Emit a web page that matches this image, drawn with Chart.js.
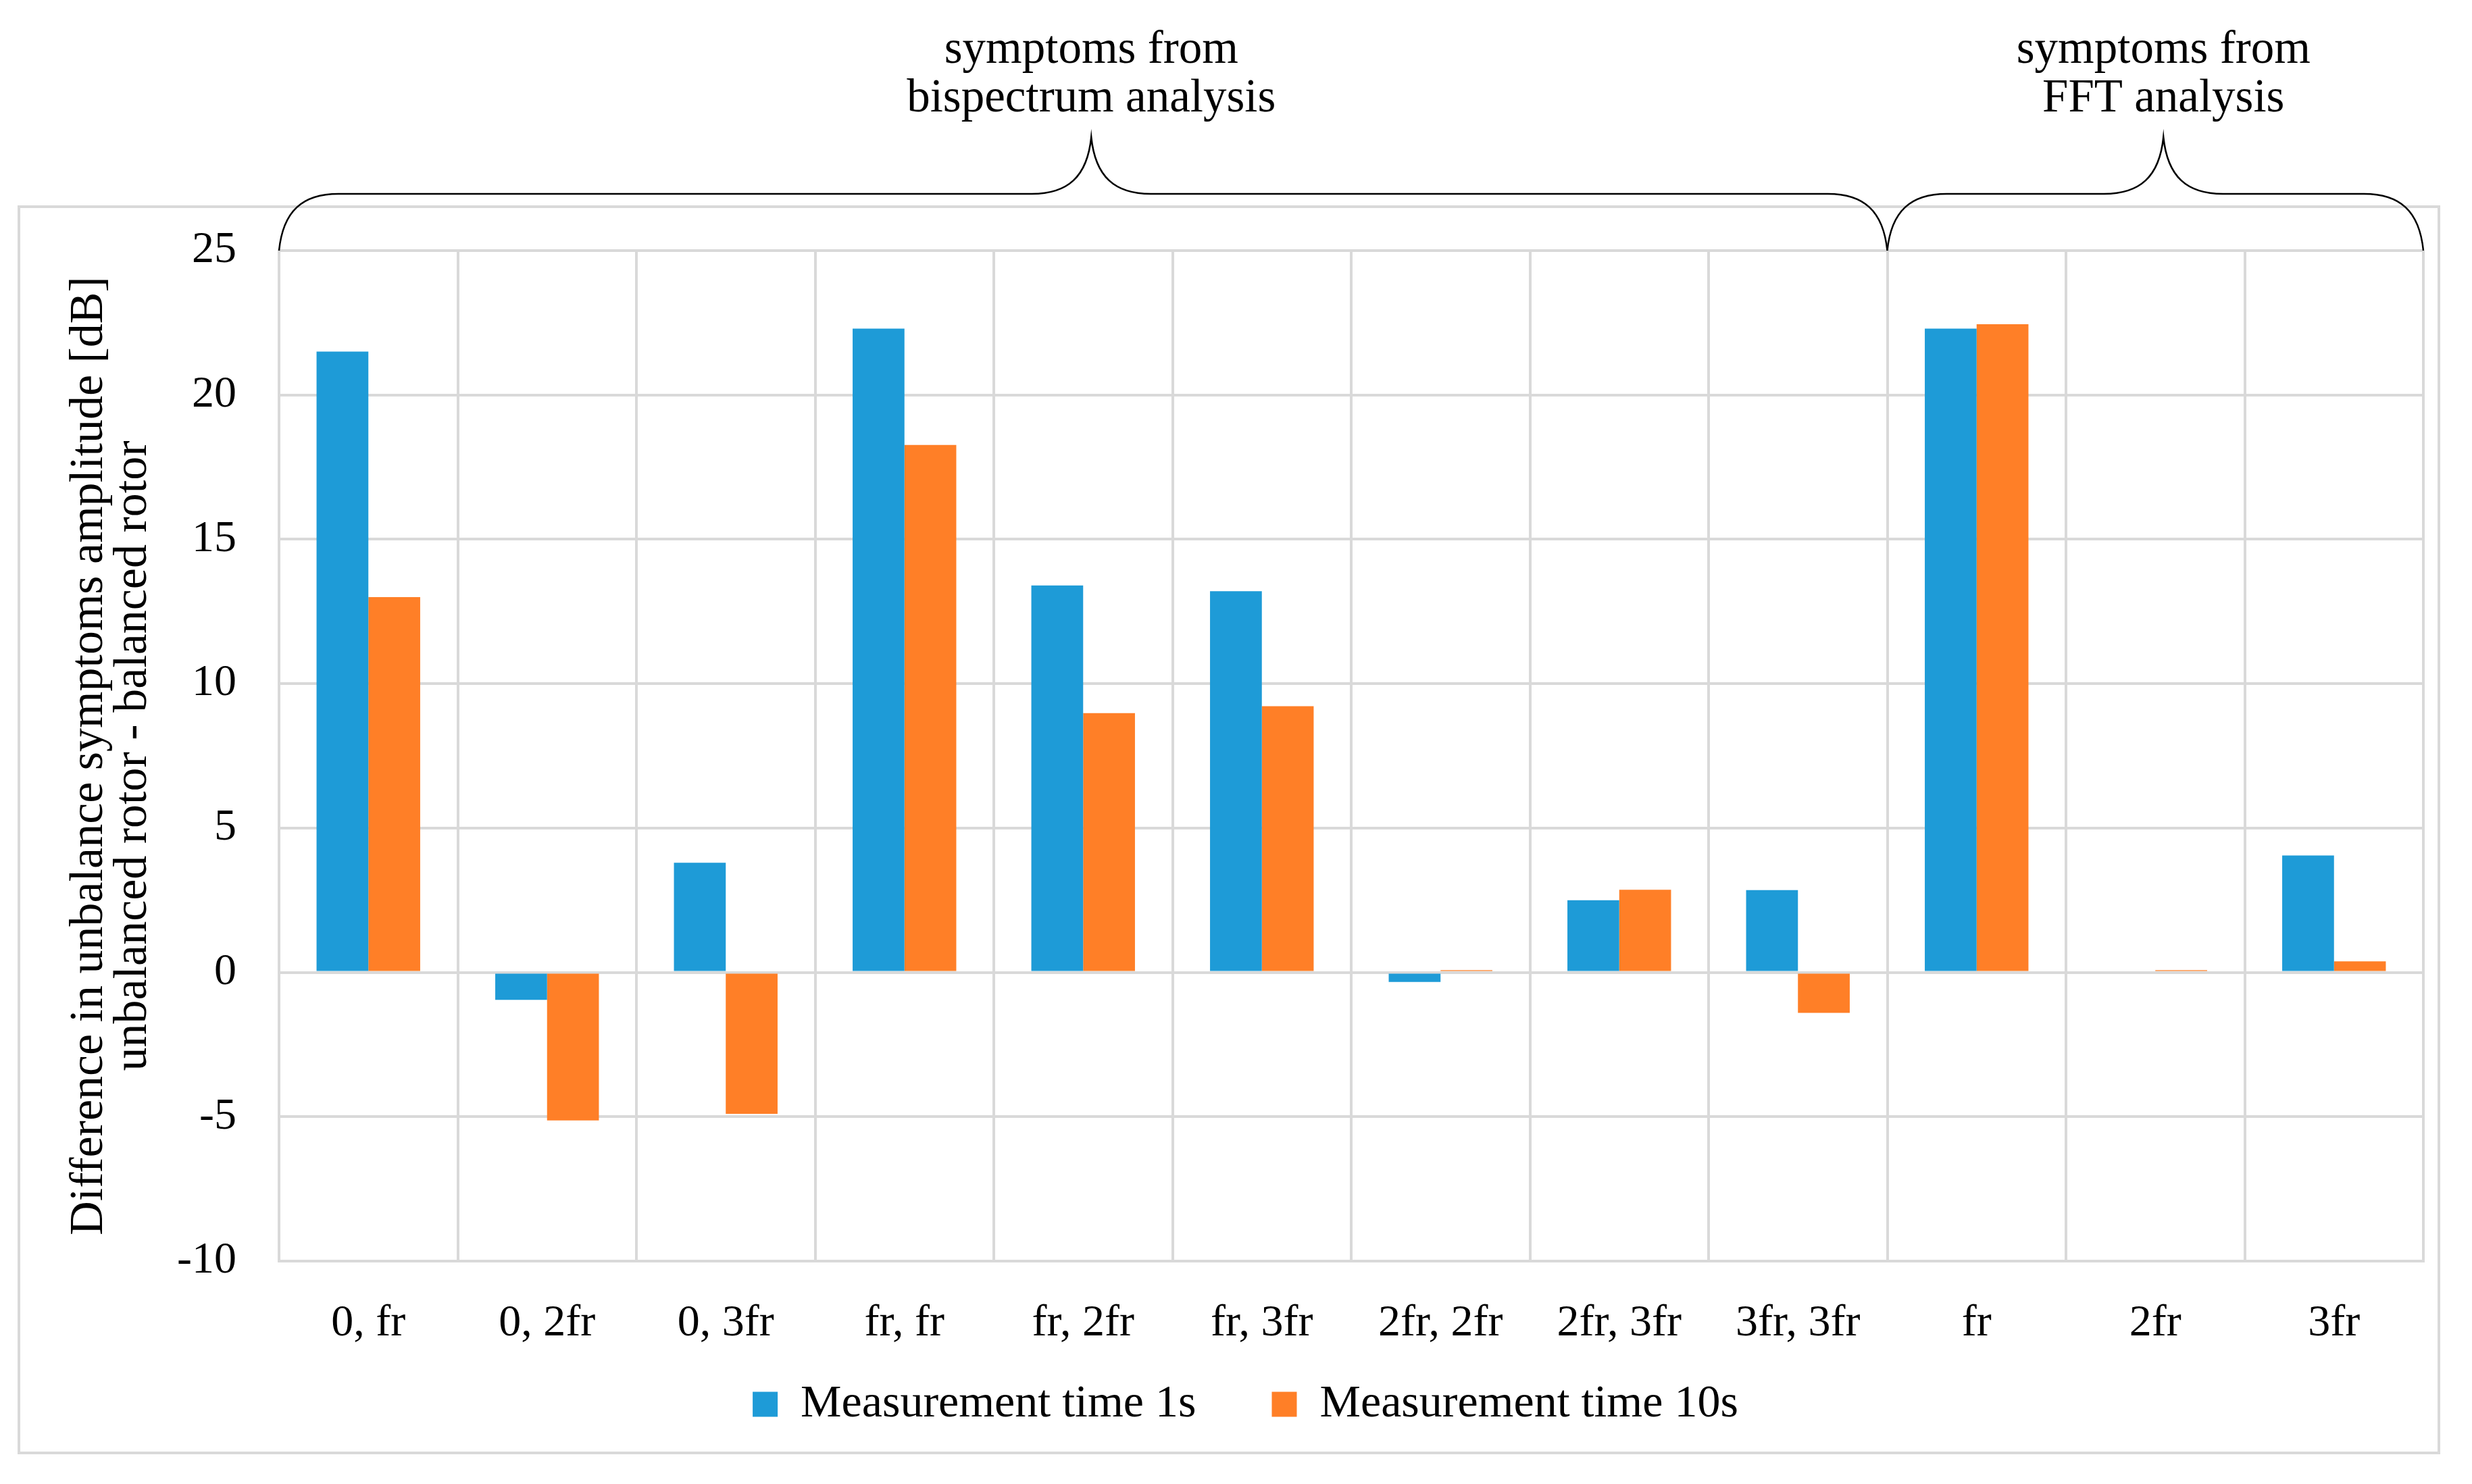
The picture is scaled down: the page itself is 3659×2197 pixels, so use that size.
<!DOCTYPE html>
<html>
<head>
<meta charset="utf-8">
<title>Unbalance symptoms</title>
<script src="https://cdn.jsdelivr.net/npm/chart.js@4.4.1/dist/chart.umd.min.js"></script>
<style>
  html, body { margin: 0; padding: 0; background: #fff; }
  canvas { display: block; }
</style>
</head>
<body>
<canvas id="chart" width="3659" height="2197"></canvas>
<script>
// values
const categories = ['0, fr', '0, 2fr', '0, 3fr', 'fr, fr', 'fr, 2fr', 'fr, 3fr', '2fr, 2fr', '2fr, 3fr', '3fr, 3fr', 'fr', '2fr', '3fr'];
const time1s = [21.5, -0.95, 3.8, 22.3, 13.4, 13.2, -0.33, 2.5, 2.85, 22.3, 0, 4.05];
const time10s = [13.0, -5.13, -4.9, 18.27, 8.98, 9.22, 0.08, 2.86, -1.4, 22.45, 0.08, 0.38];
const yTicks = [-10, -5, 0, 5, 10, 15, 20, 25];

// braces above the plot: label lines, first and last category of each group
const groupLabels = [['symptoms from', 'bispectrum analysis'], ['symptoms from', 'FFT analysis']];
const groupFrom = [0, 9];
const groupTo = [8, 11];

const FONT = 'Liberation Serif';
const GRID = '#d9d9d9';
const LEGEND_LIFT = 74; // legend sits closer to the tick labels than its padding allows
Chart.defaults.font.family = FONT;
Chart.defaults.color = '#000';

// light frame round the chart, and the curly braces with their labels
const frameAndBraces = {
    id: 'frameAndBraces',
    afterLayout(chart) {
        if (chart.legend) {
            chart.legend.top -= LEGEND_LIFT;
            chart.legend.bottom -= LEGEND_LIFT;
        }
    },
    beforeDraw(chart) {
        const ctx = chart.ctx;
        ctx.save();
        ctx.strokeStyle = GRID;
        ctx.lineWidth = 4;
        ctx.strokeRect(28, 306, chart.width - 77, chart.height - 352);
        ctx.restore();
    },
    afterDraw(chart) {
        const ctx = chart.ctx;
        const xs = chart.scales.x;
        const area = chart.chartArea;
        const half = (xs.getPixelForValue(1) - xs.getPixelForValue(0)) / 2;
        ctx.save();
        ctx.strokeStyle = '#000';
        ctx.lineWidth = 2.5;
        ctx.fillStyle = '#000';
        ctx.font = '69px "' + FONT + '"';
        ctx.textAlign = 'center';
        ctx.textBaseline = 'middle';
        groupLabels.forEach((lines, i) => {
            const x0 = xs.getPixelForValue(groupFrom[i]) - half;
            const x1 = xs.getPixelForValue(groupTo[i]) + half;
            const mid = (x0 + x1) / 2 + 12;
            const yEnd = area.top;
            const yBar = yEnd - 84;
            const yTip = yBar - 84;
            const r = 88;
            ctx.beginPath();
            ctx.moveTo(x0, yEnd);
            ctx.bezierCurveTo(x0 + 6, yBar + 25, x0 + 35, yBar, x0 + r, yBar);
            ctx.lineTo(mid - r, yBar);
            ctx.bezierCurveTo(mid - 35, yBar, mid - 6, yBar - 25, mid, yTip);
            ctx.bezierCurveTo(mid + 6, yBar - 25, mid + 35, yBar, mid + r, yBar);
            ctx.lineTo(x1 - r, yBar);
            ctx.bezierCurveTo(x1 - 35, yBar, x1 - 6, yBar + 25, x1, yEnd);
            ctx.stroke();
            lines.forEach((t, j) => ctx.fillText(t, mid, yTip - 128 + j * 72));
        });
        ctx.restore();
    }
};

new Chart(document.getElementById('chart'), {
    type: 'bar',
    data: {
        labels: categories,
        datasets: [
            { label: 'Measurement time 1s', data: time1s, backgroundColor: '#1e9bd7' },
            { label: 'Measurement time 10s', data: time10s, backgroundColor: '#ff7f27' }
        ]
    },
    options: {
        responsive: false,
        devicePixelRatio: 1,
        animation: false,
        layout: { padding: { left: 100, right: 72, top: 371, bottom: 0 } },
        datasets: { bar: { categoryPercentage: 0.58, barPercentage: 1 } },
        plugins: {
            legend: {
                position: 'bottom',
                labels: { boxWidth: 37, boxHeight: 37, padding: 112, font: { size: 68 } }
            },
            tooltip: { enabled: false }
        },
        scales: {
            x: {
                grid: { color: GRID, lineWidth: 4, drawTicks: false },
                border: { color: GRID, width: 4 },
                ticks: { padding: 53, font: { size: 66 } },
                afterFit: function (scale) { scale.height = 140; }
            },
            y: {
                min: -10,
                max: 25,
                afterBuildTicks: function (scale) {
                    scale.ticks = yTicks.map(v => ({ value: v }));
                },
                grid: { color: GRID, lineWidth: 4, drawTicks: false },
                border: { color: GRID, width: 4 },
                ticks: { padding: 63, font: { size: 66 } },
                title: {
                    display: true,
                    text: ['Difference in unbalance symptoms amplitude [dB]', 'unbalanced rotor - balanced rotor'],
                    font: { size: 70, lineHeight: '65px' },
                    padding: { top: 0, bottom: 0 }
                },
                afterFit: function (scale) { scale.width = 313; }
            }
        }
    },
    plugins: [frameAndBraces]
});
</script>
</body>
</html>
